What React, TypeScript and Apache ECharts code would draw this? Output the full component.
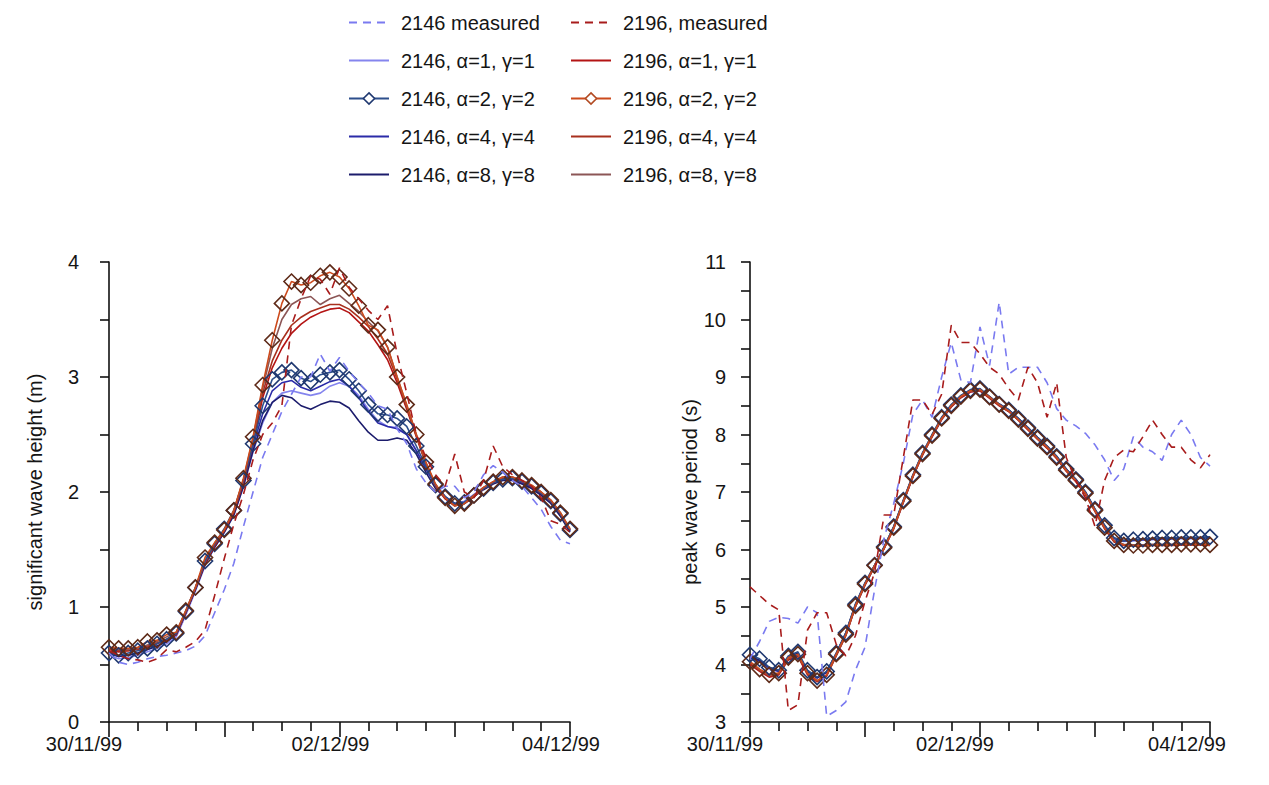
import React, { useEffect, useRef } from 'react';
import * as echarts from 'echarts';

// time axis: hours since 30/11/99 00:00, 2-hourly samples
const hours: number[] = Array.from({ length: 49 }, (_, i) => i * 2);
const dayLabels = ['30/11/99', '', '02/12/99', '', '04/12/99'];

// significant wave height (m)
const hs2146Meas = [0.60,0.52,0.50,0.52,0.55,0.57,0.58,0.60,0.62,0.66,0.75,0.95,1.15,1.38,1.70,2.00,2.30,2.50,2.70,2.85,3.00,3.00,3.20,3.05,3.17,3.05,2.95,2.86,2.75,2.72,2.55,2.42,2.20,2.08,2.00,2.05,2.05,1.95,2.00,2.15,2.23,2.17,2.10,2.05,1.95,1.85,1.70,1.58,1.55];
const hs2146A1 = [0.58,0.55,0.56,0.58,0.61,0.64,0.68,0.74,0.93,1.14,1.36,1.52,1.65,1.80,2.05,2.35,2.60,2.78,2.86,2.88,2.86,2.84,2.86,2.92,2.95,2.92,2.84,2.72,2.62,2.57,2.56,2.50,2.36,2.20,2.06,1.96,1.90,1.92,1.98,2.04,2.08,2.11,2.11,2.08,2.04,1.98,1.91,1.80,1.66];
const hs2146A2 = [0.60,0.58,0.60,0.62,0.64,0.68,0.72,0.77,0.96,1.17,1.40,1.55,1.68,1.84,2.10,2.42,2.75,2.98,3.04,3.06,2.99,2.96,3.02,3.04,3.06,2.98,2.88,2.76,2.68,2.67,2.64,2.57,2.40,2.22,2.06,1.96,1.90,1.91,1.97,2.03,2.08,2.11,2.12,2.09,2.05,1.99,1.92,1.81,1.67];
const hs2146A4 = [0.60,0.57,0.58,0.60,0.63,0.66,0.70,0.76,0.95,1.16,1.38,1.54,1.67,1.82,2.08,2.40,2.68,2.88,2.95,2.97,2.91,2.88,2.92,2.96,2.98,2.92,2.82,2.70,2.60,2.57,2.55,2.50,2.36,2.20,2.06,1.96,1.90,1.91,1.97,2.03,2.08,2.11,2.11,2.08,2.04,1.98,1.91,1.80,1.66];
const hs2146A8 = [0.60,0.57,0.58,0.60,0.63,0.66,0.70,0.76,0.95,1.15,1.37,1.52,1.65,1.80,2.05,2.36,2.62,2.78,2.84,2.82,2.75,2.72,2.76,2.79,2.78,2.73,2.62,2.52,2.45,2.45,2.47,2.45,2.33,2.17,2.03,1.95,1.89,1.90,1.96,2.02,2.07,2.10,2.10,2.07,2.03,1.97,1.90,1.79,1.65];
const hs2196Meas = [0.62,0.58,0.55,0.54,0.52,0.55,0.63,0.61,0.65,0.70,0.80,1.10,1.42,1.72,1.98,2.28,2.50,2.60,2.75,3.45,3.68,3.88,3.85,3.72,3.95,3.78,3.68,3.58,3.50,3.62,3.20,2.86,2.50,2.30,2.15,2.05,2.33,2.00,1.95,2.10,2.40,2.22,2.15,2.10,2.05,1.95,1.75,1.72,1.65];
const hs2196A1 = [0.63,0.61,0.62,0.63,0.65,0.68,0.71,0.76,0.95,1.16,1.38,1.53,1.66,1.82,2.08,2.42,2.82,3.08,3.25,3.38,3.46,3.52,3.56,3.59,3.60,3.56,3.48,3.40,3.28,3.15,2.95,2.72,2.48,2.24,2.05,1.94,1.88,1.90,1.96,2.03,2.08,2.12,2.12,2.09,2.05,1.99,1.92,1.81,1.67];
const hs2196A2 = [0.65,0.64,0.64,0.65,0.70,0.71,0.76,0.78,0.97,1.17,1.43,1.56,1.67,1.84,2.12,2.48,2.93,3.32,3.64,3.83,3.80,3.82,3.88,3.91,3.87,3.77,3.62,3.45,3.41,3.26,3.00,2.76,2.50,2.26,2.07,1.95,1.88,1.90,1.97,2.04,2.09,2.13,2.13,2.10,2.06,2.00,1.93,1.82,1.68];
const hs2196A4 = [0.64,0.62,0.62,0.64,0.66,0.69,0.72,0.77,0.96,1.17,1.39,1.54,1.67,1.83,2.10,2.45,2.86,3.14,3.32,3.45,3.52,3.57,3.60,3.63,3.63,3.59,3.52,3.44,3.33,3.20,2.98,2.74,2.49,2.25,2.06,1.95,1.88,1.90,1.96,2.03,2.08,2.12,2.12,2.09,2.05,1.99,1.92,1.81,1.67];
const hs2196A8 = [0.64,0.63,0.63,0.64,0.67,0.70,0.74,0.78,0.97,1.17,1.40,1.55,1.67,1.84,2.11,2.47,2.90,3.25,3.50,3.63,3.68,3.70,3.63,3.68,3.71,3.64,3.57,3.48,3.40,3.26,3.00,2.75,2.50,2.25,2.06,1.95,1.88,1.90,1.97,2.04,2.09,2.13,2.13,2.10,2.06,2.00,1.93,1.82,1.68];

// peak wave period (s)
const tp2146Meas = [4.10,4.40,4.75,4.82,4.80,4.72,5.00,4.90,3.10,3.20,3.35,3.90,4.30,5.30,6.20,6.80,7.50,8.35,8.60,8.30,9.00,9.60,8.95,8.90,9.87,9.20,10.30,9.05,9.17,9.17,9.17,8.90,8.45,8.25,8.15,8.02,7.82,7.56,7.20,7.40,7.96,7.78,7.70,7.55,8.00,8.25,8.00,7.60,7.45];
const tp2146A1 = [4.10,4.05,3.92,3.88,4.10,4.15,3.88,3.76,3.86,4.18,4.52,5.00,5.38,5.70,6.02,6.38,6.82,7.26,7.64,7.96,8.26,8.48,8.64,8.74,8.76,8.64,8.52,8.40,8.25,8.10,7.93,7.78,7.60,7.38,7.20,6.98,6.68,6.40,6.18,6.14,6.15,6.16,6.17,6.18,6.18,6.19,6.19,6.19,6.20];
const tp2146A2 = [4.17,4.10,3.95,3.90,4.15,4.22,3.90,3.78,3.88,4.20,4.55,5.05,5.42,5.73,6.05,6.40,6.86,7.30,7.68,8.00,8.30,8.52,8.68,8.78,8.80,8.66,8.53,8.43,8.28,8.12,7.95,7.80,7.62,7.40,7.22,7.00,6.70,6.42,6.20,6.15,6.17,6.18,6.19,6.20,6.20,6.21,6.21,6.21,6.22];
const tp2146A4 = [4.12,4.06,3.94,3.88,4.12,4.18,3.88,3.77,3.87,4.19,4.54,5.03,5.40,5.72,6.04,6.39,6.84,7.28,7.66,7.98,8.28,8.50,8.66,8.76,8.78,8.65,8.52,8.42,8.27,8.11,7.94,7.79,7.61,7.39,7.21,6.99,6.69,6.41,6.19,6.15,6.16,6.17,6.18,6.19,6.19,6.20,6.20,6.20,6.21];
const tp2146A8 = [4.14,4.08,3.95,3.89,4.13,4.20,3.89,3.77,3.87,4.19,4.55,5.04,5.41,5.72,6.04,6.40,6.85,7.29,7.67,7.99,8.29,8.51,8.67,8.77,8.79,8.66,8.53,8.43,8.28,8.12,7.95,7.80,7.62,7.40,7.22,7.00,6.70,6.42,6.20,6.16,6.17,6.18,6.19,6.20,6.20,6.21,6.21,6.21,6.22];
const tp2196Meas = [5.35,5.20,5.05,4.95,3.20,3.30,4.60,4.90,4.90,4.35,4.15,4.50,5.10,5.60,6.60,6.60,7.60,8.60,8.60,8.35,8.70,9.90,9.60,9.60,9.40,9.17,9.05,8.80,8.60,9.17,8.90,8.30,8.90,7.60,7.20,6.90,6.40,7.20,7.60,7.73,7.70,7.96,8.25,8.00,7.78,7.78,7.56,7.42,7.65];
const tp2196A1 = [4.00,3.88,3.78,3.82,4.08,4.14,3.82,3.70,3.80,4.15,4.50,5.00,5.38,5.70,6.02,6.36,6.82,7.26,7.64,7.96,8.26,8.48,8.64,8.74,8.76,8.63,8.50,8.40,8.25,8.08,7.92,7.76,7.58,7.36,7.18,6.96,6.66,6.36,6.13,6.07,6.06,6.06,6.07,6.07,6.07,6.08,6.08,6.08,6.07];
const tp2196A2 = [4.05,3.92,3.82,3.85,4.12,4.18,3.85,3.72,3.82,4.18,4.52,5.02,5.40,5.72,6.03,6.38,6.84,7.28,7.66,7.98,8.28,8.50,8.66,8.76,8.78,8.65,8.52,8.41,8.26,8.10,7.93,7.78,7.60,7.38,7.20,6.98,6.68,6.38,6.15,6.08,6.07,6.07,6.08,6.08,6.08,6.09,6.09,6.09,6.08];
const tp2196A4 = [4.02,3.90,3.80,3.84,4.10,4.16,3.84,3.71,3.81,4.16,4.51,5.01,5.39,5.71,6.02,6.37,6.83,7.27,7.65,7.97,8.27,8.49,8.65,8.75,8.77,8.64,8.51,8.40,8.25,8.09,7.92,7.77,7.59,7.37,7.19,6.97,6.67,6.37,6.14,6.08,6.07,6.07,6.08,6.08,6.08,6.09,6.09,6.09,6.08];
const tp2196A8 = [4.04,3.91,3.81,3.85,4.11,4.17,3.85,3.72,3.82,4.17,4.52,5.02,5.40,5.72,6.03,6.38,6.84,7.28,7.66,7.98,8.28,8.50,8.66,8.76,8.78,8.65,8.52,8.41,8.26,8.10,7.93,7.78,7.60,7.38,7.20,6.98,6.68,6.38,6.15,6.09,6.08,6.08,6.09,6.09,6.09,6.10,6.10,6.10,6.09];

const legendLeft = ['2146 measured', '2146, α=1, γ=1', '2146, α=2, γ=2', '2146, α=4, γ=4', '2146, α=8, γ=8'];
const legendRight = ['2196, measured', '2196, α=1, γ=1', '2196, α=2, γ=2', '2196, α=4, γ=4', '2196, α=8, γ=8'];

type Meta = { name: string; color: string; marker?: string; dashed?: boolean; hs: number[]; tp: number[] };

// drawing order: models first, measured on top
const metas: Meta[] = [
  { name: legendLeft[1], color: '#8585ee', hs: hs2146A1, tp: tp2146A1 },
  { name: legendLeft[3], color: '#2b2ba8', hs: hs2146A4, tp: tp2146A4 },
  { name: legendLeft[4], color: '#1c1c6c', hs: hs2146A8, tp: tp2146A8 },
  { name: legendLeft[2], color: '#2d4f8c', marker: '#1f3870', hs: hs2146A2, tp: tp2146A2 },
  { name: legendRight[1], color: '#b41414', hs: hs2196A1, tp: tp2196A1 },
  { name: legendRight[3], color: '#a8301e', hs: hs2196A4, tp: tp2196A4 },
  { name: legendRight[4], color: '#8c5656', hs: hs2196A8, tp: tp2196A8 },
  { name: legendRight[2], color: '#cc4a1c', marker: '#5e2a18', hs: hs2196A2, tp: tp2196A2 },
  { name: legendLeft[0], color: '#7a7af0', dashed: true, hs: hs2146Meas, tp: tp2146Meas },
  { name: legendRight[0], color: '#a81c1c', dashed: true, hs: hs2196Meas, tp: tp2196Meas },
];

const markerNames = new Set(metas.filter((m) => m.marker).map((m) => m.name));
const legendMarkerColor: Record<string, string> = { [legendLeft[2]]: '#1f3870', [legendRight[2]]: '#b24a22' };

const FONT = '"Liberation Sans", Arial, Helvetica, sans-serif';
const TXT = '#151515';

const pair = (vals: number[]) => vals.map((v, i) => [hours[i], v]);

function makeSeries(m: Meta, k: number) {
  const vals = k === 0 ? m.hs : m.tp;
  return {
    type: 'line',
    name: m.name,
    xAxisIndex: k,
    yAxisIndex: k,
    data: pair(vals),
    symbol: m.marker ? 'diamond' : 'none',
    showSymbol: !!m.marker,
    symbolSize: 15,
    smooth: false,
    silent: true,
    z: m.dashed ? 4 : m.marker ? 3 : 2,
    lineStyle: { color: m.color, width: 1.6, type: m.dashed ? [8, 6] : 'solid' },
    itemStyle: m.marker
      ? { color: 'rgba(255,255,255,0)', borderColor: m.marker, borderWidth: 1.6 }
      : { color: 'rgba(255,255,255,0)', borderWidth: 0 },
    emphasis: { disabled: true },
  };
}

function xAxis(k: number, pads: number[]) {
  return {
    type: 'value',
    gridIndex: k,
    min: 0,
    max: 96,
    interval: 24,
    axisLine: { show: true, lineStyle: { color: '#111', width: 1.6 } },
    axisTick: { show: true, length: 15, lineStyle: { color: '#111', width: 1.6 } },
    minorTick: { show: true, splitNumber: 4, length: 9, lineStyle: { color: '#111', width: 1.6 } },
    splitLine: { show: false },
    axisLabel: {
      fontSize: 20,
      fontFamily: FONT,
      color: TXT,
      margin: 12,
      formatter: (v: number) => {
        const d = Math.round(v / 24);
        const t = dayLabels[d];
        return t ? `{p${d}|${t}}` : '';
      },
      rich: {
        p0: { fontSize: 20, fontFamily: FONT, color: TXT, padding: [0, pads[0], 0, 0] },
        p2: { fontSize: 20, fontFamily: FONT, color: TXT, padding: [0, pads[1], 0, 0] },
        p4: { fontSize: 20, fontFamily: FONT, color: TXT, padding: [0, pads[2], 0, 0] },
      },
    },
  };
}

function yAxis(k: number, min: number, max: number, name: string, gap: number, margin: number) {
  return {
    type: 'value',
    gridIndex: k,
    min,
    max,
    interval: 1,
    name,
    nameLocation: 'middle',
    nameGap: gap,
    nameTextStyle: { fontSize: 20, fontFamily: FONT, color: TXT },
    axisLine: { show: true, lineStyle: { color: '#111', width: 1.6 } },
    axisTick: { show: true, length: 9, lineStyle: { color: '#111', width: 1.6 } },
    minorTick: { show: true, splitNumber: 2, length: 9, lineStyle: { color: '#111', width: 1.6 } },
    splitLine: { show: false },
    axisLabel: { fontSize: 20, fontFamily: FONT, color: TXT, margin },
  };
}

function legend(names: string[], left: number) {
  return {
    data: names.map((n) =>
      markerNames.has(n)
        ? { name: n, itemStyle: { color: '#ffffff', borderColor: legendMarkerColor[n], borderWidth: 1.6 } }
        : { name: n, itemStyle: { opacity: 0 } }
    ),
    orient: 'vertical',
    left,
    top: 7,
    itemWidth: 40,
    itemHeight: 14,
    itemGap: 17,
    selectedMode: false,
    textStyle: { fontSize: 20, fontFamily: FONT, color: TXT, lineHeight: 21, padding: [0, 0, 0, 7] },
  };
}

export default function App() {
  const ref = useRef<HTMLDivElement>(null);
  useEffect(() => {
    const chart = echarts.init(ref.current as HTMLDivElement, null, { renderer: 'svg' });
    chart.setOption({
      animation: false,
      backgroundColor: '#ffffff',
      legend: [legend(legendLeft, 343), legend(legendRight, 565)],
      grid: [
        { left: 109, top: 262, width: 461, height: 460, containLabel: false },
        { left: 750, top: 262, width: 460, height: 460, containLabel: false },
      ],
      xAxis: [xAxis(0, [50, 18, 18]), xAxis(1, [50, 50, 46])],
      yAxis: [
        yAxis(0, 0, 4, 'significant wave height (m)', 64, 30),
        yAxis(1, 3, 11, 'peak wave period (s)', 50, 24),
      ],
      series: [...metas.map((m) => makeSeries(m, 0)), ...metas.map((m) => makeSeries(m, 1))],
    });
    return () => chart.dispose();
  }, []);
  return (
    <div
      ref={ref}
      style={{ position: 'absolute', left: 0, top: 0, width: 1269, height: 785, background: '#fff' }}
    />
  );
}
